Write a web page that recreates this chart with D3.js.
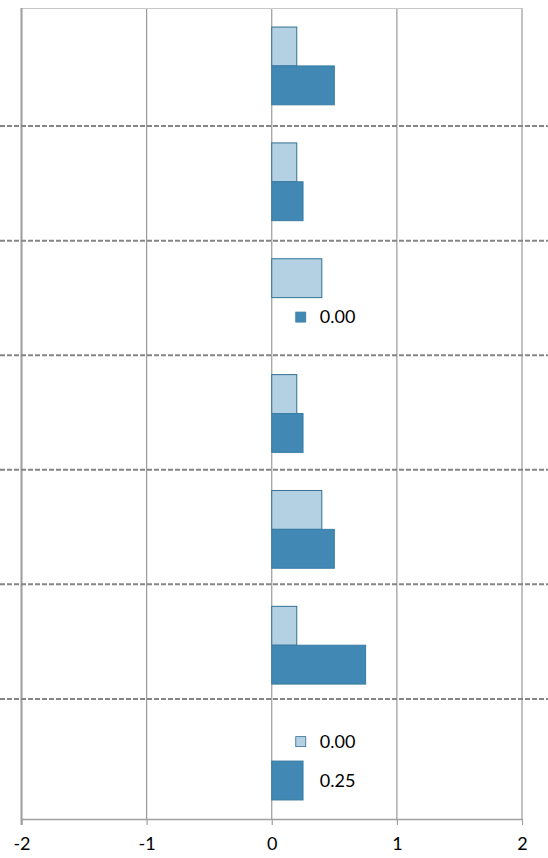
<!DOCTYPE html>
<html>
<head>
<meta charset="utf-8">
<script src="https://cdn.jsdelivr.net/npm/d3@7"></script>
<style>
  body { margin: 0; background: #fff; }
  svg { display: block; font-family: Lato, "Open Sans", sans-serif; }
</style>
</head>
<body>
<svg id="chart"></svg>
<script>
const categories = ["1", "2", "3", "4", "5", "6", "7"];
const series = ["s1", "s2"];
const s1_values = [0.2, 0.2, 0.4, 0.2, 0.4, 0.2, 0.0];
const s2_values = [0.5, 0.25, 0.0, 0.25, 0.5, 0.75, 0.25];
const x_ticks = [-2, -1, 0, 1, 2];
// data labels that show in the picture: [category, series, text, show key]
const labels = [
    ["3", "s2", "0.00", true],
    ["7", "s1", "0.00", true],
    ["7", "s2", "0.25", false]
];

const colors = {s1: "#b3d1e3", s2: "#4189b4"};
const strokes = {s1: "#336f94", s2: "#387ba3"};

const width = 548, height = 858;
const margin = {top: 8, right: 26, bottom: 39, left: 21};

const svg = d3.select("#chart")
    .attr("width", width)
    .attr("height", height);

const xScale = d3.scaleLinear()
    .domain([-2, 2])
    .range([margin.left + 0.5, width - margin.right]);

const yScale = d3.scaleBand()
    .domain(categories)
    .range([margin.top, height - margin.bottom]);

const ySub = d3.scaleBand()
    .domain(series)
    .range([0, yScale.bandwidth()])
    .paddingInner(0)
    .paddingOuter(0.49);

const sepScale = d3.scaleLinear().domain([0, 7]).range([11.5, 813.5]);

const rows = [];
categories.forEach(function (c, i) {
    rows.push({category: c, key: "s1", value: s1_values[i]});
    rows.push({category: c, key: "s2", value: s2_values[i]});
});

// vertical gridlines
svg.append("g")
    .selectAll("line")
    .data(x_ticks)
    .enter().append("line")
    .attr("x1", function (d) { return xScale(d); })
    .attr("x2", function (d) { return xScale(d); })
    .attr("y1", margin.top)
    .attr("y2", height - margin.bottom)
    .attr("stroke", "#9a9a9a")
    .attr("stroke-width", 1.2);

// top border
svg.append("line")
    .attr("x1", xScale(-2)).attr("x2", xScale(2))
    .attr("y1", margin.top + 0.5).attr("y2", margin.top + 0.5)
    .attr("stroke", "#c8c8c8");

// x axis
const xAxis = svg.append("g")
    .attr("class", "x-axis")
    .attr("transform", "translate(0," + (height - margin.bottom) + ")")
    .call(d3.axisBottom(xScale)
        .tickValues(x_ticks)
        .tickSize(6)
        .tickSizeOuter(0)
        .tickFormat(d3.format("d")));
xAxis.select(".domain").attr("stroke", "#a0a0a0").attr("stroke-width", 1.5);
xAxis.selectAll(".tick line").attr("stroke", "#a0a0a0").attr("stroke-width", 1.2);
xAxis.selectAll(".tick text")
    .attr("y", 18)
    .attr("dy", "0.71em")
    .attr("fill", "#000")
    .style("font-size", "18px")
    .style("font-family", "Lato, 'Open Sans', sans-serif")
    .text(function (d) { return d < 0 ? "-" + Math.abs(d) : d; });

// left axis line
svg.append("line")
    .attr("x1", xScale(-2)).attr("x2", xScale(-2))
    .attr("y1", margin.top).attr("y2", height - margin.bottom + 6)
    .attr("stroke", "#a0a0a0")
    .attr("stroke-width", 2);

// bars
svg.append("g")
    .selectAll("rect")
    .data(rows)
    .enter().append("rect")
    .attr("x", function (d) { return xScale(Math.min(0, d.value)); })
    .attr("y", function (d) { return yScale(d.category) + ySub(d.key); })
    .attr("width", function (d) { return Math.abs(xScale(d.value) - xScale(0)); })
    .attr("height", ySub.bandwidth())
    .attr("fill", function (d) { return colors[d.key]; })
    .attr("stroke", function (d) { return d.value === 0 ? "none" : strokes[d.key]; })
    .attr("stroke-width", 1);

// category separators
svg.append("g")
    .selectAll("line")
    .data(d3.range(1, categories.length))
    .enter().append("line")
    .attr("x1", 0).attr("x2", width)
    .attr("y1", function (d) { return sepScale(d); })
    .attr("y2", function (d) { return sepScale(d); })
    .attr("stroke", "#858585")
    .attr("stroke-width", 2)
    .attr("stroke-dasharray", "5,2");

// data labels
const lab = svg.append("g")
    .selectAll("g")
    .data(labels)
    .enter().append("g")
    .attr("transform", function (d) {
        return "translate(" + xScale(0) + "," + (yScale(d[0]) + ySub(d[1]) + ySub.bandwidth() / 2) + ")";
    });

lab.filter(function (d) { return d[3]; })
    .append("rect")
    .attr("x", 24)
    .attr("y", -5)
    .attr("width", 10)
    .attr("height", 10)
    .attr("fill", function (d) { return colors[d[1]]; })
    .attr("stroke", function (d) { return strokes[d[1]]; })
    .attr("stroke-width", 0.8);

lab.append("text")
    .attr("x", 48)
    .attr("dy", "0.35em")
    .style("font-size", "18px")
    .attr("fill", "#000")
    .text(function (d) { return d[2]; });
</script>
</body>
</html>
